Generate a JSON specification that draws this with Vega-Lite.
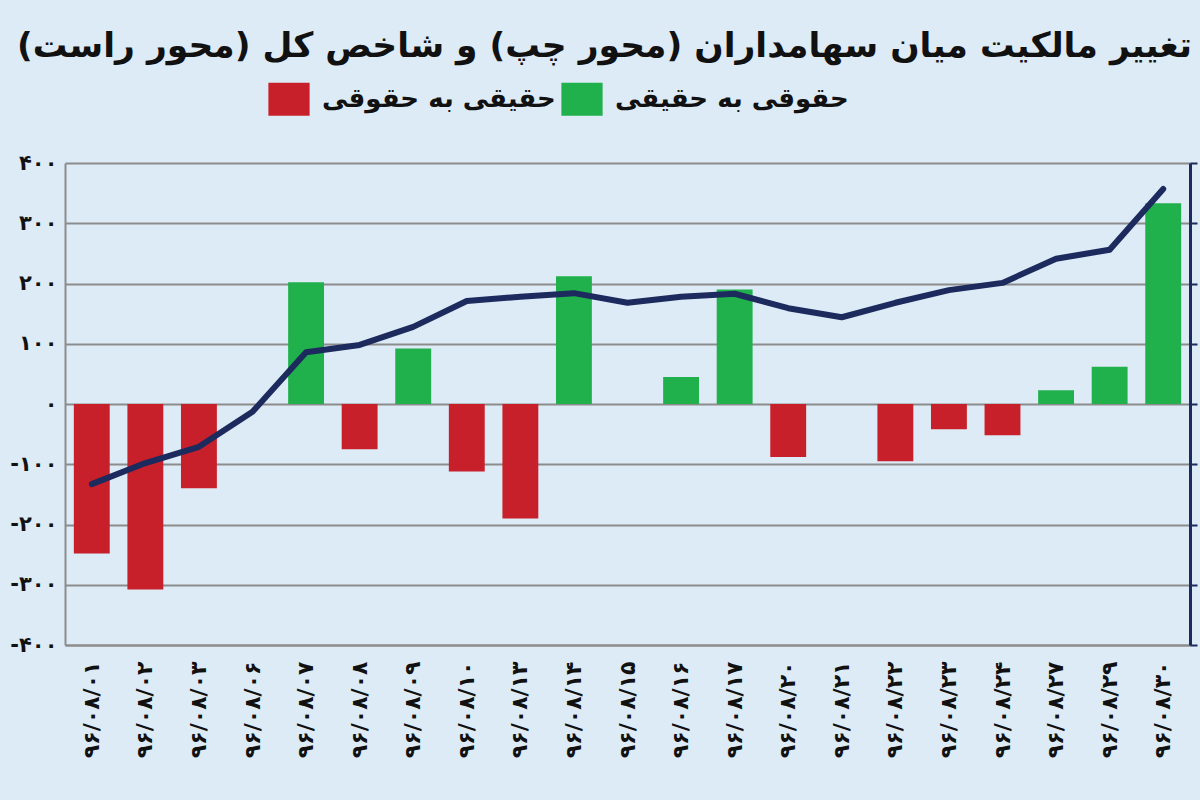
{
  "$schema": "https://vega.github.io/schema/vega-lite/v6.json",
  "width": 1125,
  "height": 482,
  "autosize": {"type": "none"},
  "padding": {"left": 65, "top": 163, "right": 10, "bottom": 155},
  "background": "#dcebf6",
  "title": {
    "text": "تغییر مالکیت میان سهامداران (محور چپ) و شاخص کل (محور راست)\u200f",
    "anchor": "end",
    "orient": "top",
    "offset": 14,
    "dx": -6,
    "fontSize": 34.5,
    "fontWeight": "bold",
    "color": "#111111",
    "font": "DejaVu Sans"
  },
  "config": {
    "view": {"stroke": null},
    "font": "DejaVu Sans",
    "legend": {
      "orient": "none",
      "legendX": 203,
      "legendY": -85,
      "direction": "horizontal",
      "padding": 0,
      "symbolType": "M-1,-0.8H1V0.8H-1Z",
      "symbolSize": 1700,
      "symbolStrokeWidth": 0,
      "symbolOpacity": 1,
      "labelFontSize": 26,
      "labelFontWeight": "bold",
      "labelColor": "#111111",
      "labelOffset": 12,
      "columnPadding": 5,
      "labelLimit": 400
    }
  },
  "data": {
    "values": [
      {"date": "۹۶/۰۸/۰۱", "flow": -248, "type": "حقیقی به حقوقی", "index": 94670},
      {"date": "۹۶/۰۸/۰۲", "flow": -308, "type": "حقیقی به حقوقی", "index": 95020},
      {"date": "۹۶/۰۸/۰۳", "flow": -140, "type": "حقیقی به حقوقی", "index": 95290},
      {"date": "۹۶/۰۸/۰۶", "flow": null, "type": null, "index": 95870},
      {"date": "۹۶/۰۸/۰۷", "flow": 202, "type": "حقوقی به حقیقی", "index": 96860},
      {"date": "۹۶/۰۸/۰۸", "flow": -75, "type": "حقیقی به حقوقی", "index": 96980},
      {"date": "۹۶/۰۸/۰۹", "flow": 92, "type": "حقوقی به حقیقی", "index": 97280},
      {"date": "۹۶/۰۸/۱۰", "flow": -112, "type": "حقیقی به حقوقی", "index": 97710},
      {"date": "۹۶/۰۸/۱۳", "flow": -190, "type": "حقیقی به حقوقی", "index": 97780},
      {"date": "۹۶/۰۸/۱۴", "flow": 212, "type": "حقوقی به حقیقی", "index": 97840},
      {"date": "۹۶/۰۸/۱۵", "flow": null, "type": null, "index": 97680},
      {"date": "۹۶/۰۸/۱۶", "flow": 45, "type": "حقوقی به حقیقی", "index": 97780},
      {"date": "۹۶/۰۸/۱۷", "flow": 190, "type": "حقوقی به حقیقی", "index": 97830},
      {"date": "۹۶/۰۸/۲۰", "flow": -88, "type": "حقیقی به حقوقی", "index": 97590},
      {"date": "۹۶/۰۸/۲۱", "flow": null, "type": null, "index": 97440},
      {"date": "۹۶/۰۸/۲۲", "flow": -95, "type": "حقیقی به حقوقی", "index": 97680},
      {"date": "۹۶/۰۸/۲۳", "flow": -42, "type": "حقیقی به حقوقی", "index": 97890},
      {"date": "۹۶/۰۸/۲۴", "flow": -52, "type": "حقیقی به حقوقی", "index": 98010},
      {"date": "۹۶/۰۸/۲۷", "flow": 23, "type": "حقوقی به حقیقی", "index": 98410},
      {"date": "۹۶/۰۸/۲۹", "flow": 62, "type": "حقوقی به حقیقی", "index": 98560},
      {"date": "۹۶/۰۸/۳۰", "flow": 333, "type": "حقوقی به حقیقی", "index": 99570}
    ]
  },
  "encoding": {
    "x": {
      "field": "date",
      "type": "nominal",
      "sort": null,
      "scale": {
        "domain": ["۹۶/۰۸/۰۱", "۹۶/۰۸/۰۲", "۹۶/۰۸/۰۳", "۹۶/۰۸/۰۶", "۹۶/۰۸/۰۷", "۹۶/۰۸/۰۸", "۹۶/۰۸/۰۹", "۹۶/۰۸/۱۰", "۹۶/۰۸/۱۳", "۹۶/۰۸/۱۴", "۹۶/۰۸/۱۵", "۹۶/۰۸/۱۶", "۹۶/۰۸/۱۷", "۹۶/۰۸/۲۰", "۹۶/۰۸/۲۱", "۹۶/۰۸/۲۲", "۹۶/۰۸/۲۳", "۹۶/۰۸/۲۴", "۹۶/۰۸/۲۷", "۹۶/۰۸/۲۹", "۹۶/۰۸/۳۰"],
        "paddingInner": 0.33,
        "paddingOuter": 0.165
      },
      "axis": {
        "title": null,
        "labelAngle": -90,
        "labelFontSize": 22,
        "labelFontWeight": "bold",
        "labelColor": "#111111",
        "ticks": false,
        "labelPadding": 16,
        "domainColor": "#8c8c8c",
        "domainWidth": 2,
        "grid": false
      }
    }
  },
  "layer": [
    {
      "mark": {"type": "bar"},
      "encoding": {
        "y": {
          "field": "flow",
          "type": "quantitative",
          "scale": {"domain": [-400, 400], "nice": false},
          "axis": {
            "title": null,
            "values": [-400, -300, -200, -100, 0, 100, 200, 300, 400],
            "labelExpr": "datum.value==400?'۴۰۰':datum.value==300?'۳۰۰':datum.value==200?'۲۰۰':datum.value==100?'۱۰۰':datum.value==0?'۰':datum.value==-100?'-۱۰۰':datum.value==-200?'-۲۰۰':datum.value==-300?'-۳۰۰':'-۴۰۰'",
            "grid": true,
            "gridColor": "#8c8c8c",
            "gridWidth": 2,
            "gridOpacity": 1,
            "domainColor": "#8c8c8c",
            "domainWidth": 2,
            "ticks": false,
            "labelFontSize": 21,
            "labelFontWeight": "bold",
            "labelColor": "#111111",
            "labelPadding": 8
          }
        },
        "color": {
          "field": "type",
          "type": "nominal",
          "scale": {"domain": ["حقیقی به حقوقی", "حقوقی به حقیقی"], "range": ["#c8202a", "#20b04c"]},
          "legend": {"title": null}
        }
      }
    },
    {
      "mark": {"type": "line", "color": "#1c2a5e", "strokeWidth": 6, "strokeCap": "round", "strokeJoin": "round"},
      "encoding": {
        "y": {
          "field": "index",
          "type": "quantitative",
          "scale": {"domain": [92000, 100000], "nice": false, "zero": false},
          "axis": {
            "orient": "right",
            "title": null,
            "labels": false,
            "values": [92000, 93000, 94000, 95000, 96000, 97000, 98000, 99000, 100000],
            "grid": false,
            "domainColor": "#1c2a5e",
            "domainWidth": 3,
            "tickColor": "#1c2a5e",
            "tickWidth": 2,
            "tickSize": 7
          }
        }
      }
    }
  ],
  "resolve": {"scale": {"y": "independent"}}
}
